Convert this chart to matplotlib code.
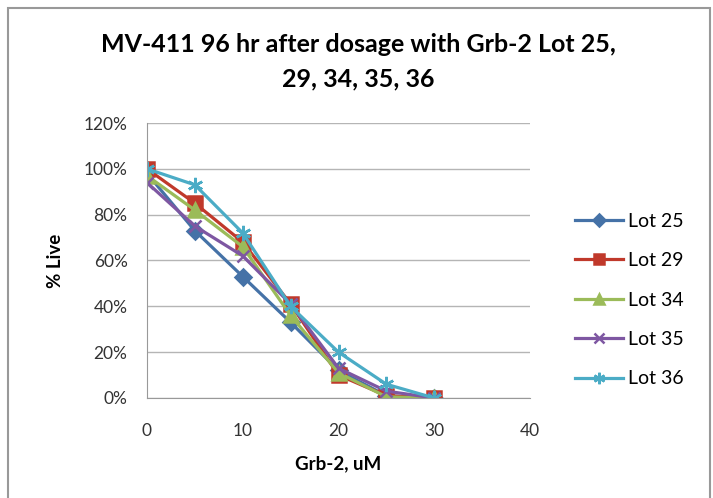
import matplotlib.pyplot as plt
from matplotlib.ticker import PercentFormatter
from matplotlib.patches import Rectangle

plt.rcParams['font.family'] = ['Lato', 'DejaVu Sans']

dose = [0, 5, 10, 15, 20, 25, 30]
lot25 = [98, 73, 53, 33, 12, 1, 0]
lot29 = [100, 85, 68, 41, 10, 1, 0]
lot34 = [97, 82, 66, 36, 11, 0.5, 0]
lot35 = [94, 75, 62, 41, 13, 3, 0]
lot36 = [100, 93, 72, 40, 20, 6, 0]

series = [
    ('Lot 25', lot25, '#4572A7', 'D', 8.5),
    ('Lot 29', lot29, '#C0392B', 's', 10),
    ('Lot 34', lot34, '#9BBB59', '^', 10),
    ('Lot 35', lot35, '#7E57A2', 'x', 9),
    ('Lot 36', lot36, '#4BACC6', (6, 2, 0), 11),
]

fig = plt.figure(figsize=(7.13, 4.98), dpi=100)
# chart frame
fig.patches.append(Rectangle((8 / 713, -0.01), 702 / 713, 1 - 8 / 498 + 0.01,
                             transform=fig.transFigure, fill=False,
                             edgecolor='#999999', linewidth=1.5))
ax = fig.add_axes([147 / 713, 1 - 398 / 498, (530 - 147) / 713, (398 - 123) / 498])

for name, vals, color, marker, ms in series:
    ax.plot(dose, vals, color=color, marker=marker, markersize=ms, linewidth=2.3,
            markeredgecolor=color, markeredgewidth=1.8, label=name)

ax.set_xlim(0, 40)
ax.set_ylim(0, 120)
ax.set_xticks(range(0, 41, 10))
ax.set_yticks(range(0, 121, 20))
ax.yaxis.set_major_formatter(PercentFormatter(decimals=0))
ax.grid(axis='y', color='#B5B5B5', linewidth=1)
ax.set_axisbelow(True)
for s in ['top', 'right']:
    ax.spines[s].set_visible(False)
for s in ['left', 'bottom']:
    ax.spines[s].set_color('#999999')
ax.tick_params(labelsize=12.5, length=0, colors='#333333')
ax.tick_params(axis='y', pad=14)
ax.tick_params(axis='x', pad=18)
ax.set_xlabel('Grb-2, uM', fontsize=13.5, fontweight='bold', labelpad=12)
ax.set_ylabel('% Live', fontsize=13.5, fontweight='bold', labelpad=14)

fig.text(0.503, 0.876, 'MV-411 96 hr after dosage with Grb-2 Lot 25,\n29, 34, 35, 36',
         ha='center', va='center', fontsize=18, fontweight='bold', linespacing=1.6)

ax.legend(loc='center left', bbox_to_anchor=(1.117, 0.356), frameon=False,
          fontsize=14, handlelength=2.5, labelspacing=1.15, handletextpad=0.25,
          borderpad=0, borderaxespad=0, markerscale=0.75)

fig.savefig('out.png', dpi=100)
